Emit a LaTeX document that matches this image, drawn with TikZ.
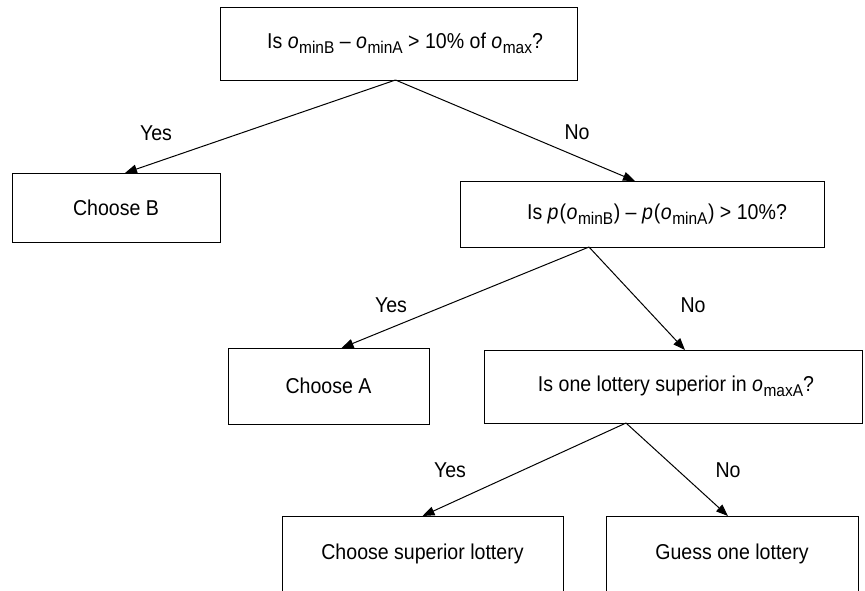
\documentclass[tikz,border=0pt]{standalone}
\usepackage{fontspec}
\setmainfont{Liberation Sans}[FakeStretch=0.91]
\usetikzlibrary{arrows.meta}
\newcommand{\vr}[2]{\textit{o}\kern0.5pt\raisebox{-4.5pt}{\fontsize{17}{17}\selectfont #2}}
\newcommand{\pr}[1]{\textit{p}\kern1pt(\kern0.5pt\vr{o}{#1}\kern0.5pt)}
\begin{document}
\begin{tikzpicture}[x=1pt,y=-1pt,
  box/.style={draw, line width=1pt, inner sep=0pt, outer sep=0pt, align=center,
    font=\fontsize{21.5}{25}\selectfont},
  lbl/.style={font=\fontsize{21.5}{25}\selectfont, inner sep=0pt},
  arr/.style={line width=1pt, -{Triangle[length=12pt,width=9pt]}}]
\useasboundingbox (0,0) rectangle (865,590);
\clip (0,0) rectangle (865,590);
\node[box, minimum width=357pt, minimum height=73pt] (q1) at (398.5,43.5)
  {\hspace{13pt}Is \vr{o}{minB} – \vr{o}{minA} > 10\% of \vr{o}{max}?};
\node[box, minimum width=208pt, minimum height=69pt] (b) at (116,207.5) {Choose B};
\node[box, minimum width=364pt, minimum height=66pt] (q2) at (642,214)
  {\hspace{30pt}Is \pr{minB} – \pr{minA} > 10\%?};
\node[box, minimum width=201pt, minimum height=76pt] (a) at (328.5,386) {Choose A};
\node[box, minimum width=378pt, minimum height=73pt] (q3) at (673,386.5)
  {\hspace{6pt}Is one lottery superior in \vr{o}{maxA}?};
\node[box, minimum width=281pt, minimum height=75pt] (s) at (422.5,553.5) {Choose superior lottery};
\node[box, minimum width=252pt, minimum height=75pt] (g) at (732,553.5) {Guess one lottery};
\draw[arr] ([xshift=-3pt]q1.south) -- ([xshift=9pt]b.north);
\draw[arr] ([xshift=-3pt]q1.south) -- ([xshift=-7pt]q2.north);
\draw[arr] ([xshift=-53pt]q2.south) -- ([xshift=13pt]a.north);
\draw[arr] ([xshift=-53pt]q2.south) -- ([xshift=12pt]q3.north);
\draw[arr] ([xshift=-47pt]q3.south) -- ([xshift=0pt]s.north);
\draw[arr] ([xshift=-47pt]q3.south) -- ([xshift=-4pt]g.north);
\node[lbl] (y1) at (156,133) {Yes};
\node[lbl] (n1) at (577,132) {No};
\node[lbl] (y2) at (391,305) {Yes};
\node[lbl] (n2) at (693,305) {No};
\node[lbl] (y3) at (450,470) {Yes};
\node[lbl] (n3) at (728,470) {No};
\end{tikzpicture}
\end{document}
